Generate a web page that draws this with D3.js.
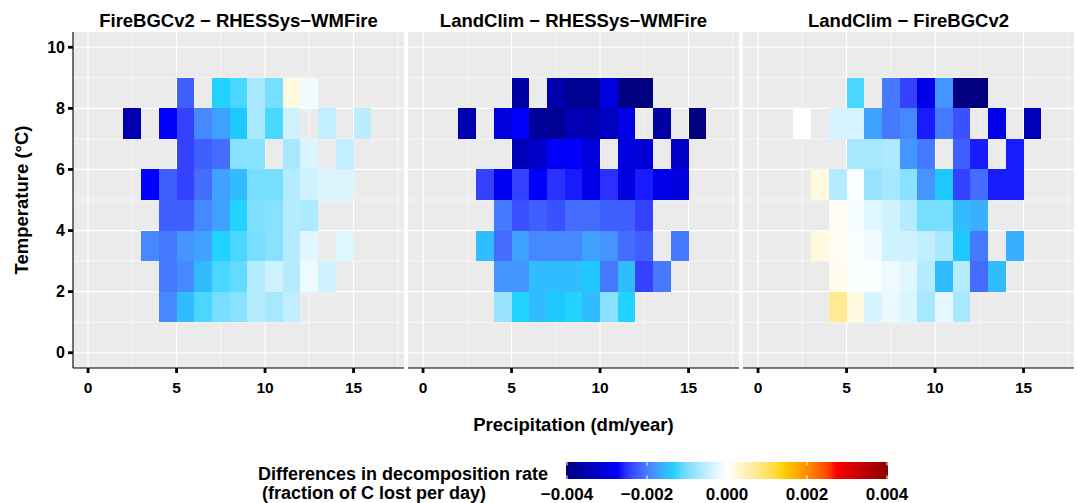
<!DOCTYPE html>
<html>
<head>
<meta charset="utf-8">
<script src="https://cdn.jsdelivr.net/npm/d3@7"></script>
<style>
  body { margin: 0; background: #fff; }
  text { font-family: "Liberation Sans", Arial, sans-serif; font-weight: bold; fill: #000; }
</style>
</head>
<body>
<div id="chart"></div>
<script>
// Facet titles
const panelNames = ["FireBGCv2 \u2212 RHESSys\u2212WMFire", "LandClim \u2212 RHESSys\u2212WMFire", "LandClim \u2212 FireBGCv2"];

// Left edge of each precipitation bin (dm/year) and lower edge of each temperature row (°C)
const precipBins = [2, 3, 4, 5, 6, 7, 8, 9, 10, 11, 12, 13, 14, 15, 16];
const tempBins = [8, 7, 6, 5, 4, 3, 2, 1];

// Differences in decomposition rate, rows follow tempBins, columns follow precipBins
const fireVsRhessys = [
  [null, null, null, -0.0022, null, -0.0013, -0.0012, -0.0007, -0.0010, 0.0002, -0.00012, null, null, null, null],
  [-0.0035, null, -0.0027, -0.0024, -0.0019, -0.0017, -0.0014, -0.0007, -0.0012, -0.0004, null, -0.0005, null, -0.00055, null],
  [null, null, null, -0.0024, -0.0022, -0.0021, -0.0009, -0.0009, null, -0.0007, -0.0003, null, -0.0005, null, null],
  [null, -0.0027, -0.0022, -0.0024, -0.0021, -0.0017, -0.0015, -0.0010, -0.0010, -0.0006, -0.0004, -0.0003, -0.0003, null, null],
  [null, null, -0.0022, -0.0022, -0.0019, -0.0017, -0.0013, -0.00095, -0.0009, -0.0006, -0.00065, null, null, null, null],
  [null, -0.0019, -0.0020, -0.0018, -0.0017, -0.0013, -0.0012, -0.0010, -0.0009, -0.0006, -0.00025, null, -0.00028, null, null],
  [null, null, -0.0020, -0.0019, -0.0015, -0.0012, -0.0011, -0.0006, -0.0004, -0.0006, -0.00015, -0.0004, null, null, null],
  [null, null, -0.0019, -0.0015, -0.0012, -0.0010, -0.0009, -0.0006, -0.0007, -0.0005, null, null, null, null, null]
];
const landVsRhessys = [
  [null, null, null, -0.0036, null, -0.0035, -0.0038, -0.0038, -0.0030, -0.0040, -0.0040, null, null, null, null],
  [-0.0035, null, -0.0030, -0.0027, -0.0037, -0.0038, -0.0034, -0.0035, -0.0033, -0.0029, null, -0.0036, null, -0.0040, null],
  [null, null, null, -0.0034, -0.0032, -0.0027, -0.0027, -0.0030, null, -0.0030, -0.0031, null, -0.0032, null, null],
  [null, -0.0024, -0.0028, -0.0024, -0.0027, -0.0025, -0.0026, -0.0029, -0.0025, -0.0030, -0.0026, -0.0029, -0.0030, null, null],
  [null, null, -0.0020, -0.0023, -0.0022, -0.0023, -0.0021, -0.0021, -0.0022, -0.0022, -0.0024, null, null, null, null],
  [null, -0.0015, -0.0021, -0.0017, -0.0019, -0.0019, -0.0019, -0.0017, -0.0018, -0.0021, -0.0022, null, -0.0020, null, null],
  [null, null, -0.0018, -0.0018, -0.0015, -0.0015, -0.0015, -0.0014, -0.0020, -0.0015, -0.0024, -0.0020, null, null, null],
  [null, null, -0.0008, -0.0013, -0.0015, -0.0014, -0.0013, -0.0015, -0.0009, -0.0013, null, null, null, null, null]
];
const landVsFire = [
  [null, null, null, -0.0012, null, -0.0020, -0.0024, -0.0029, -0.0018, -0.0040, -0.0040, null, null, null, null],
  [0.0000, null, -0.00035, -0.00035, -0.0017, -0.0020, -0.0019, -0.0026, -0.0020, -0.0023, null, -0.0029, null, -0.0034, null],
  [null, null, null, -0.0007, -0.0007, -0.00065, -0.0018, -0.0020, null, -0.0022, -0.0026, null, -0.0026, null, null],
  [null, 0.0002, -0.0006, -0.00005, -0.0008, -0.0007, -0.0009, -0.0018, -0.0014, -0.0024, -0.0021, -0.0026, -0.0026, null, null],
  [null, null, 0.00008, -0.0001, -0.00025, -0.0004, -0.0006, -0.0010, -0.0010, -0.0015, -0.0016, null, null, null, null],
  [null, 0.0002, 0.00008, -0.00003, -0.00012, -0.0004, -0.0004, -0.0005, -0.0007, -0.0014, -0.0020, null, -0.0016, null, null],
  [null, null, 0.00012, -0.00003, -0.00004, -0.00015, -0.00025, -0.0006, -0.0015, -0.0006, -0.0021, -0.0015, null, null, null],
  [null, null, 0.0007, 0.0002, -0.00035, -0.00018, -0.0003, -0.0007, -0.0002, -0.0007, null, null, null, null, null]
];
const panelData = [fireVsRhessys, landVsRhessys, landVsFire];

// Axis ticks and colour legend
const xTicks = [0, 5, 10, 15];
const xMinor = [2.5, 7.5, 12.5, 17.5];
const yTicks = [0, 2, 4, 6, 8, 10];
const yMinor = [1, 3, 5, 7, 9];
const legendBreaks = [-0.004, -0.002, 0, 0.002, 0.004];
const fillColours = ["#000080", "#0000ff", "#00d2ff", "#ffffff", "#ffd700", "#ff0000", "#8b0000"];

const width = 1077, height = 503;
const svg = d3.select('#chart').append('svg')
  .attr('width', width)
  .attr('height', height);

const panelW = 331, panelTop = 32, panelBottom = 368;
const panelLefts = [73, 408, 743];

const x = d3.scaleLinear().domain([-0.85, 17.85]).range([0, panelW]);
const y = d3.scaleLinear().domain([-0.5, 10.5]).range([panelBottom, panelTop]);

const fill = d3.scaleLinear()
  .domain(d3.range(fillColours.length).map(i => -0.004 + i * 0.008 / (fillColours.length - 1)))
  .range(fillColours)
  .interpolate(d3.interpolateLab)
  .clamp(true);

const fmt = v => d3.format('.3f')(v).replace('-', '\u2212');

panelData.forEach((matrix, p) => {
  const g = svg.append('g').attr('transform', `translate(${panelLefts[p]},0)`);

  // panel background and grid
  g.append('rect')
    .attr('x', 0).attr('y', panelTop)
    .attr('width', panelW).attr('height', panelBottom - panelTop)
    .attr('fill', '#ebebeb');

  g.selectAll('.vminor').data(xMinor).enter().append('line')
    .attr('x1', d => x(d)).attr('x2', d => x(d))
    .attr('y1', panelTop).attr('y2', panelBottom)
    .attr('stroke', '#fff').attr('stroke-width', 0.6);
  g.selectAll('.hminor').data(yMinor).enter().append('line')
    .attr('x1', 0).attr('x2', panelW)
    .attr('y1', d => y(d)).attr('y2', d => y(d))
    .attr('stroke', '#fff').attr('stroke-width', 0.6);
  g.selectAll('.vmajor').data(xTicks).enter().append('line')
    .attr('x1', d => x(d)).attr('x2', d => x(d))
    .attr('y1', panelTop).attr('y2', panelBottom)
    .attr('stroke', '#fff').attr('stroke-width', 1.2);
  g.selectAll('.hmajor').data(yTicks).enter().append('line')
    .attr('x1', 0).attr('x2', panelW)
    .attr('y1', d => y(d)).attr('y2', d => y(d))
    .attr('stroke', '#fff').attr('stroke-width', 1.2);

  // tiles
  const cells = [];
  matrix.forEach((row, i) => row.forEach((v, j) => {
    if (v !== null) cells.push({ p: precipBins[j], t: tempBins[i], v: v });
  }));
  g.selectAll('.tile').data(cells).enter().append('rect')
    .attr('x', d => x(d.p))
    .attr('y', d => y(d.t + 1))
    .attr('width', d => x(d.p + 1) - x(d.p))
    .attr('height', d => y(d.t) - y(d.t + 1))
    .attr('fill', d => fill(d.v))
    .attr('shape-rendering', 'crispEdges');

  // strip title
  g.append('text')
    .attr('x', panelW / 2).attr('y', 26.5)
    .attr('text-anchor', 'middle')
    .style('font-size', '18.5px')
    .text(panelNames[p]);

  // x axis
  const xAxis = g.append('g');
  xAxis.append('line')
    .attr('x1', 0).attr('x2', panelW)
    .attr('y1', panelBottom).attr('y2', panelBottom)
    .attr('stroke', '#000').attr('stroke-width', 1.1);
  xAxis.selectAll('.tick').data(xTicks).enter().append('line')
    .attr('x1', d => x(d)).attr('x2', d => x(d))
    .attr('y1', panelBottom).attr('y2', panelBottom + 5)
    .attr('stroke', '#000').attr('stroke-width', 2.8);
  xAxis.selectAll('.lab').data(xTicks).enter().append('text')
    .attr('x', d => x(d)).attr('y', 393)
    .attr('text-anchor', 'middle')
    .style('font-size', '15.5px')
    .text(d => d);

  // y axis only on first panel
  if (p === 0) {
    g.append('line')
      .attr('x1', 0).attr('x2', 0)
      .attr('y1', panelTop).attr('y2', panelBottom)
      .attr('stroke', '#000').attr('stroke-width', 1.1);
    g.selectAll('.ytick').data(yTicks).enter().append('line')
      .attr('x1', -5).attr('x2', 0)
      .attr('y1', d => y(d)).attr('y2', d => y(d))
      .attr('stroke', '#000').attr('stroke-width', 2.8);
    g.selectAll('.ylab').data(yTicks).enter().append('text')
      .attr('x', -8).attr('y', d => y(d) + 5.5)
      .attr('text-anchor', 'end')
      .style('font-size', '16px')
      .text(d => d);
  }
});

// axis titles
svg.append('text')
  .attr('x', (panelLefts[0] + panelLefts[2] + panelW) / 2).attr('y', 431)
  .attr('text-anchor', 'middle')
  .style('font-size', '18.5px')
  .text('Precipitation (dm/year)');

svg.append('text')
  .attr('transform', `translate(28,${(panelTop + panelBottom) / 2}) rotate(-90)`)
  .attr('text-anchor', 'middle')
  .style('font-size', '18.5px')
  .text('Temperature (\u00b0C)');

// colour legend
const legX0 = 567, legX1 = 887, legY = 462, legH = 17;
const lx = d3.scaleLinear().domain([-0.004, 0.004]).range([legX0, legX1]);

const defs = svg.append('defs');
const grad = defs.append('linearGradient').attr('id', 'legend-grad')
  .attr('x1', '0%').attr('x2', '100%').attr('y1', '0%').attr('y2', '0%');
d3.range(0, 1.0001, 0.02).forEach(t => {
  grad.append('stop')
    .attr('offset', (t * 100) + '%')
    .attr('stop-color', fill(-0.004 + t * 0.008));
});

svg.append('rect')
  .attr('x', legX0 - 1).attr('y', legY)
  .attr('width', legX1 - legX0 + 2).attr('height', legH)
  .attr('fill', 'url(#legend-grad)');

const legTicks = svg.append('g');
legendBreaks.forEach(b => {
  legTicks.append('line')
    .attr('x1', lx(b)).attr('x2', lx(b))
    .attr('y1', legY).attr('y2', legY + 3.5)
    .attr('stroke', '#fff').attr('stroke-width', 1);
  legTicks.append('line')
    .attr('x1', lx(b)).attr('x2', lx(b))
    .attr('y1', legY + legH - 3.5).attr('y2', legY + legH)
    .attr('stroke', '#fff').attr('stroke-width', 1);
});

svg.selectAll('.leglab').data(legendBreaks).enter().append('text')
  .attr('x', d => lx(d)).attr('y', 500)
  .attr('text-anchor', 'middle')
  .style('font-size', '17px')
  .text(d => fmt(d));

svg.append('text')
  .attr('x', 258).attr('y', 480)
  .style('font-size', '18px')
  .text('Differences in decomposition rate');
svg.append('text')
  .attr('x', 262).attr('y', 499)
  .style('font-size', '18px')
  .text('(fraction of C lost per day)');
</script>
</body>
</html>
